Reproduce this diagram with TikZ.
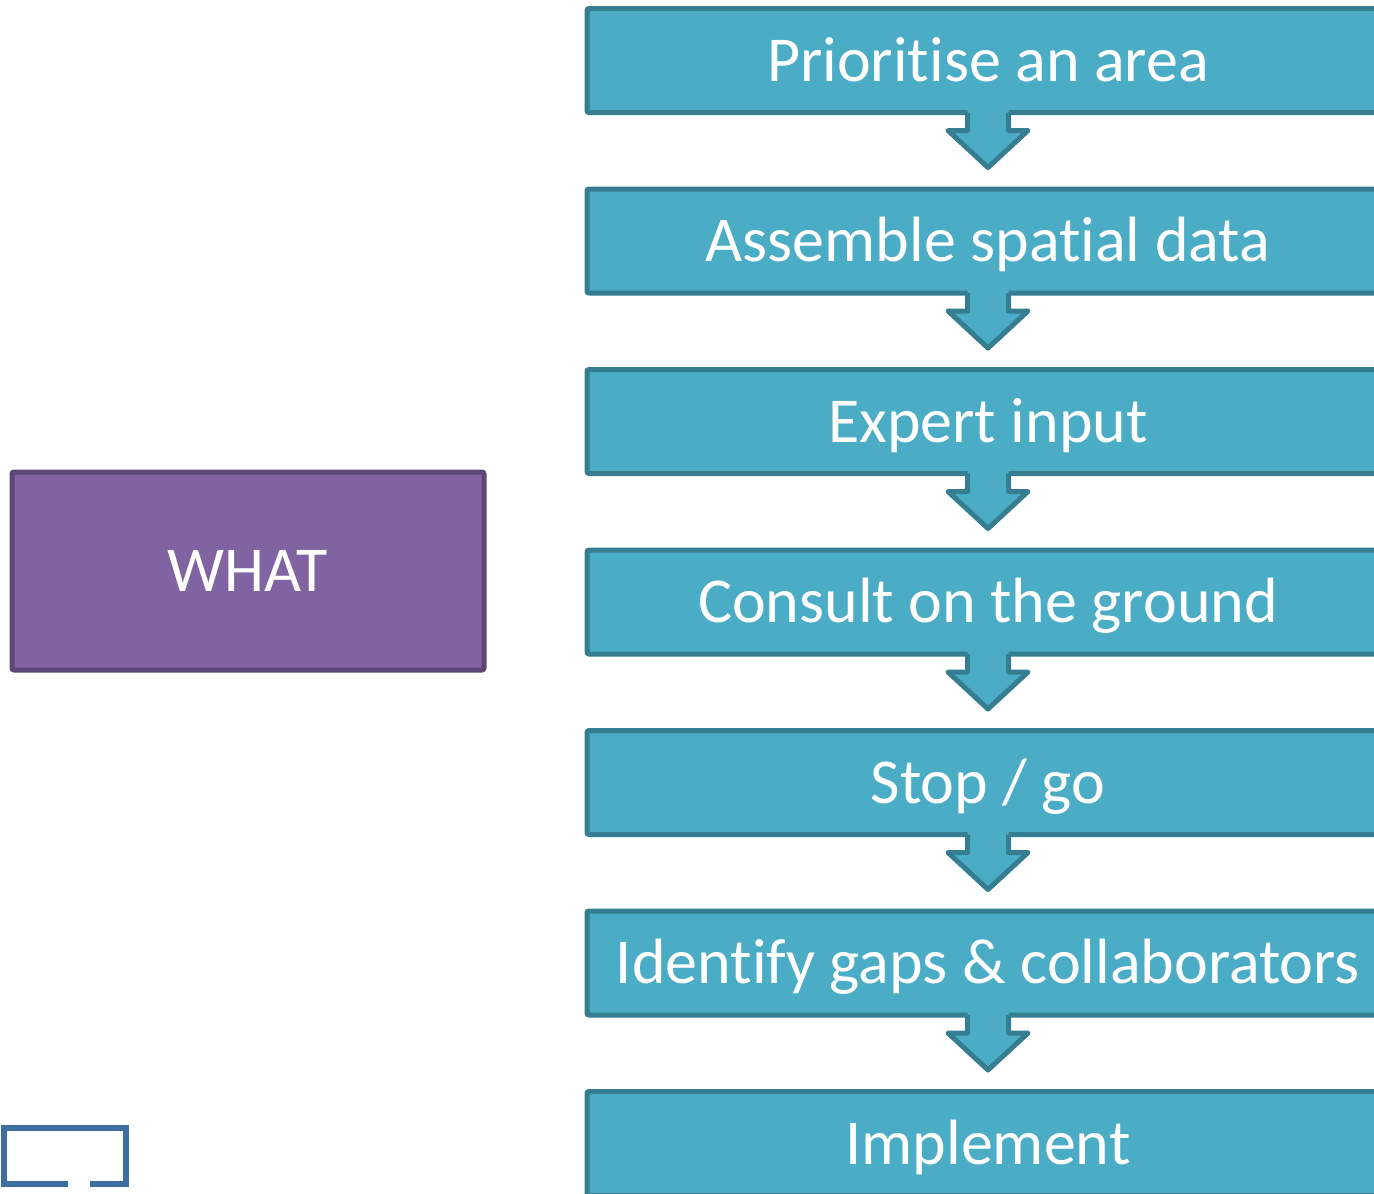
\documentclass[tikz,border=0pt]{standalone}
\usepackage{fontspec}
\setmainfont[Ligatures={NoCommon}]{Carlito}
\definecolor{boxfill}{HTML}{4BACC6}
\definecolor{boxline}{HTML}{357D91}
\definecolor{whatfill}{HTML}{8064A2}
\definecolor{whatline}{HTML}{5C4776}
\definecolor{brack}{HTML}{3C6E9F}
\begin{document}
\begin{tikzpicture}[x=1pt,y=-1pt,
  stepbox/.style={draw=boxline, fill=boxfill, line width=5pt, rounded corners=2pt,
    minimum width=802pt, minimum height=104pt, outer sep=0pt, inner sep=0pt,
    text=white, font=\fontsize{64}{76}\selectfont, text height=41.2pt, text depth=0pt},
  whatbox/.style={draw=whatline, fill=whatfill, line width=5pt, rounded corners=2pt,
    minimum width=472pt, minimum height=198pt, outer sep=0pt, inner sep=0pt,
    text=white, font=\fontsize{64}{76}\selectfont, text height=41.2pt, text depth=0pt},
  downarrow/.style={draw=boxline, line width=5pt, line join=round}
]
\useasboundingbox (0,0) rectangle (1374,1194);
\clip (0,0) rectangle (1374,1194);
\fill[white] (0,0) rectangle (1374,1194);

\node[stepbox] (b1) at (988,60.5) {Prioritise an area};
\node[stepbox] (b2) at (988,241) {Assemble spatial data};
\node[stepbox] (b3) at (988,421.5) {Expert input};
\node[stepbox] (b4) at (988,602) {Consult on the ground};
\node[stepbox] (b5) at (988,782.5) {Stop / go};
\node[stepbox] (b6) at (988,963) {Identify gaps \& collaborators};
\node[stepbox] (b7) at (988,1143.5) {Implement};

\foreach \a in {b1,b2,b3,b4,b5,b6}{
  \begin{scope}[shift={(\a.south)}]
    \fill[boxfill] (-20.5,-6) -- (-20.5,18) -- (-40,18) -- (0,55) -- (40,18) -- (20.5,18) -- (20.5,-6) -- cycle;
    \draw[downarrow] (-20.5,0) -- (-20.5,18) -- (-40,18) -- (0,55) -- (40,18) -- (20.5,18) -- (20.5,0);
  \end{scope}
}

\node[whatbox] (what) at (248,571) {WHAT};

\draw[brack, line width=6pt] (68,1184) -- (3.5,1184) -- (3.5,1128) -- (125.5,1128) -- (125.5,1184) -- (90,1184);
\end{tikzpicture}
\end{document}
